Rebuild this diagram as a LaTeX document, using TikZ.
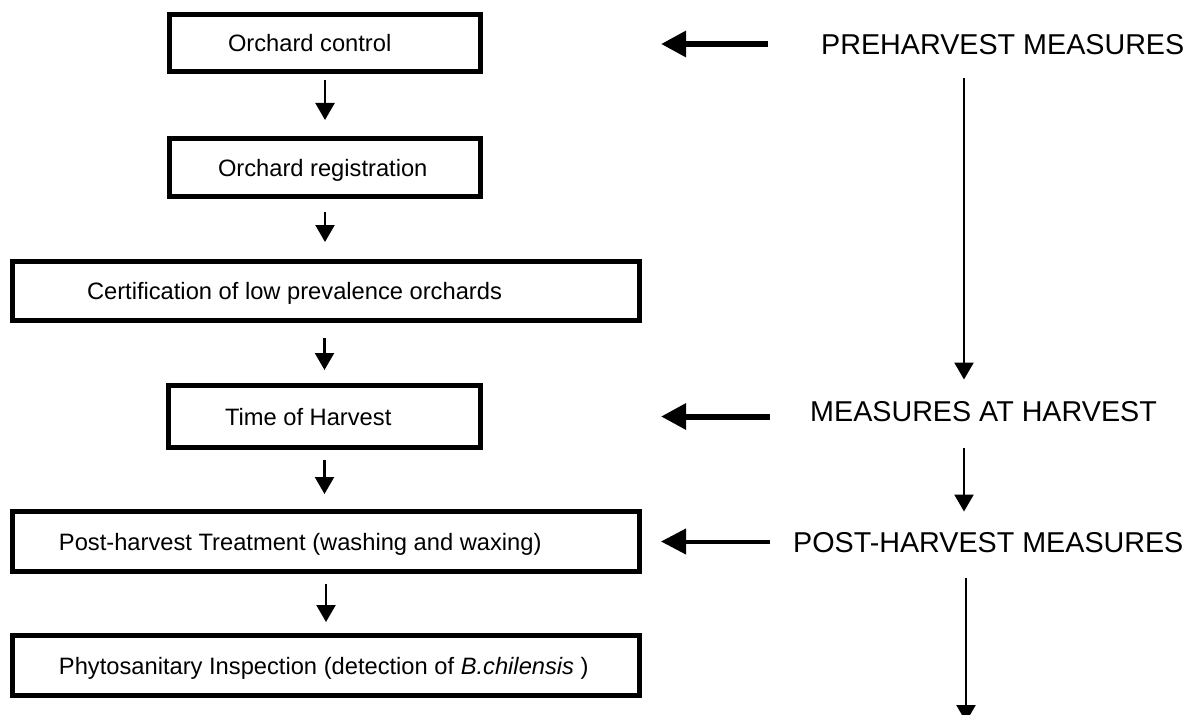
\documentclass[tikz,border=0pt]{standalone}
\usepackage{fontspec}
\setmainfont{Liberation Sans}
\usetikzlibrary{arrows.meta}
\begin{document}
\begin{tikzpicture}[x=1pt,y=-1pt,
  box/.style={draw, line width=5pt, inner xsep=0pt, inner ysep=0pt, text height=17pt, text depth=0pt, font=\fontsize{23.7pt}{28pt}\selectfont},
  lab/.style={inner sep=0pt, anchor=west, text height=20.5pt, text depth=0pt, font=\fontsize{28.7pt}{34pt}\selectfont},
  smallarr/.style={line width=2.3pt, -{Triangle[length=17pt,width=19pt]}},
  bigarr/.style={line width=6pt, -{Triangle[length=25pt,width=25pt]}},
  postarr/.style={line width=4pt, -{Triangle[length=25pt,width=25pt]}},
]
\useasboundingbox (0,0) rectangle (1198,714);
\clip (0,0) rectangle (1198,714);
\fill[white] (0,0) rectangle (1198,714);

\node[box, minimum width=311pt, minimum height=57pt] (b1) at (325,43) {\makebox[311pt][l]{\hspace{58.5pt}Orchard control}};
\node[box, minimum width=311pt, minimum height=58pt] (b2) at (325,167.5) {\makebox[311pt][l]{\hspace{48.5pt}Orchard registration}};
\node[box, minimum width=627pt, minimum height=59pt] (b3) at (326,291) {\makebox[627pt][l]{\hspace{74.5pt}Certification of low prevalence orchards}};
\node[box, minimum width=312pt, minimum height=62pt] (b4) at (324.5,416.5) {\makebox[312pt][l]{\hspace{56.5pt}Time of Harvest}};
\node[box, minimum width=627pt, minimum height=60pt] (b5) at (326,541.5) {\makebox[627pt][l]{\hspace{46.5pt}Post-harvest Treatment (washing and waxing)}};
\node[box, minimum width=627pt, minimum height=60pt] (b6) at (326,665.5) {\makebox[627pt][l]{\hspace{46.5pt}Phytosanitary Inspection (detection of \textit{B.chilensis} )}};

\draw[smallarr, shorten <=6pt, shorten >=16pt] (b1.south) -- (b2.north);
\draw[smallarr, shorten <=13pt, shorten >=17pt] (b2.south) -- (b2.south |- b3.north);
\draw[smallarr, shorten <=15pt, shorten >=13pt] (b3.south -| b4.north) -- (b4.north);
\draw[smallarr, shorten <=10pt, shorten >=15pt] (b4.south) -- (b4.south |- b5.north);
\draw[smallarr, shorten <=10pt, shorten >=11pt] (b5.south) -- (b6.north);

\node[lab] (r1) at (821,44) {PREHARVEST MEASURES};
\node[lab] (r2) at (810,411) {MEASURES AT HARVEST};
\node[lab] (r3) at (793,542) {POST-HARVEST MEASURES};
\coordinate (rc) at (964,0);
\coordinate (rc3) at (966,0);
\coordinate (e3) at (966,722);

\draw[smallarr, shorten <=24pt, shorten >=21pt] (r1.south -| rc) -- (r2.north -| rc);
\draw[smallarr, shorten <=27pt, shorten >=20pt] (r2.south -| rc) -- (r3.north -| rc);
\draw[smallarr, shorten <=26pt] (r3.south -| rc3) -- (e3);

\draw[bigarr, shorten <=53pt, shorten >=178pt] (r1.west) -- (r1.west -| b1.east);
\draw[bigarr, shorten <=40pt, shorten >=178pt] (b4.east -| r2.west) -- (b4.east);
\draw[postarr, shorten <=23pt, shorten >=19pt] (b5.east -| r3.west) -- (b5.east);
\end{tikzpicture}
\end{document}
